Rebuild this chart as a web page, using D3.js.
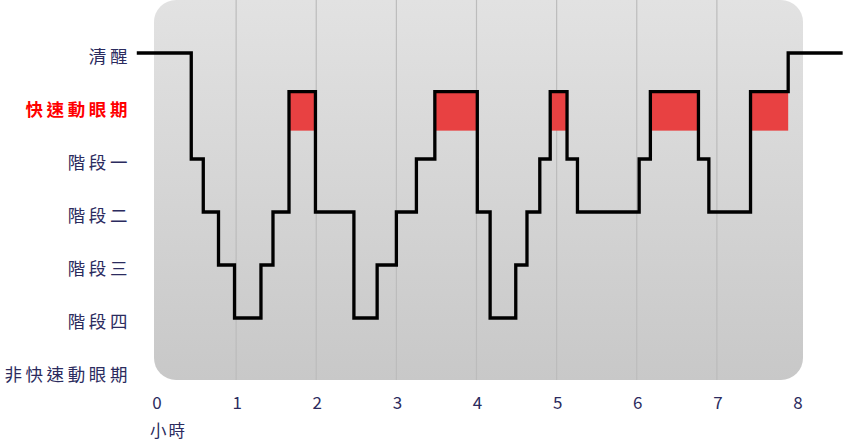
<!DOCTYPE html>
<html><head><meta charset="utf-8">
<script src="https://cdn.jsdelivr.net/npm/d3@7"></script>
<style>
html,body{margin:0;padding:0;background:#fff;}
svg{display:block;}
text{font-family:"Noto Sans CJK TC","Noto Sans",sans-serif;}
</style></head>
<body>
<svg id="chart" width="843" height="441"></svg>
<script>
// ---- data ----
const stages = ["清醒","快速動眼期","階段一","階段二","階段三","階段四","非快速動眼期"];
const xTicks = [0,1,2,3,4,5,6,7,8];
const segStart = [-0.24,0.44,0.59,0.78,0.98,1.31,1.46,1.66,1.99,2.47,2.76,3.0,3.25,3.48,4.01,4.17,4.49,4.63,4.79,4.92,5.13,5.26,6.03,6.17,6.77,6.9,7.42,7.89];
const segStage = ["清醒","階段一","階段二","階段三","階段四","階段三","階段二","快速動眼期","階段二","階段四","階段三","階段二","階段一","快速動眼期","階段二","階段四","階段三","階段二","階段一","快速動眼期","階段一","階段二","階段一","快速動眼期","階段一","階段二","快速動眼期","清醒"];
const endTime = 8.57;
const xLabel = "小時";

// ---- scales ----
const svg = d3.select("#chart");
const x = d3.scaleLinear().domain([0,8]).range([156,797]);
const y = d3.scalePoint().domain(stages).range([53,371]);
const step = y.step();
const REM = "快速動眼期";
const lvl = s => s === REM ? y(s) - step*0.27 : y(s);

// background
const defs = svg.append("defs");
const g = defs.append("linearGradient").attr("id","bg").attr("x1",0).attr("y1",0).attr("x2",0).attr("y2",1);
g.append("stop").attr("offset","0%").attr("stop-color","#e2e2e2");
g.append("stop").attr("offset","100%").attr("stop-color","#c8c8c8");
svg.append("rect")
  .attr("x", x(0)-2).attr("y", 0)
  .attr("width", x(8)+6-(x(0)-2)).attr("height", 380)
  .attr("rx", 22).attr("ry", 22)
  .attr("fill","url(#bg)");

// gridlines
svg.append("g").selectAll("line").data(xTicks.slice(1,-1)).join("line")
  .attr("x1", d=>x(d)).attr("x2", d=>x(d))
  .attr("y1", 0).attr("y2", 380)
  .attr("stroke","#bcbcbc").attr("stroke-width",1.2);

// data
const segs = segStart.map((s,i)=>({start:s, end: i<segStart.length-1 ? segStart[i+1] : endTime, stage:segStage[i]}));

// REM rects
svg.append("g").selectAll("rect").data(segs.filter(d=>d.stage===REM)).join("rect")
  .attr("x", d=>x(d.start)).attr("width", d=>x(d.end)-x(d.start))
  .attr("y", lvl(REM)).attr("height", y(REM)+step*0.465 - lvl(REM))
  .attr("fill","#e84142");

// step line
const pts = segs.map(d=>[d.start, d.stage]);
pts.push([endTime, segs[segs.length-1].stage]);
const line = d3.line().x(d=>x(d[0])).y(d=>lvl(d[1])).curve(d3.curveStepAfter);
svg.append("path").datum(pts).attr("d", line)
  .attr("fill","none").attr("stroke","#000").attr("stroke-width",3.3)
  .attr("stroke-linejoin","miter");

// y labels
svg.append("g").selectAll("text").data(stages).join("text")
  .attr("x", 131).attr("y", d=>y(d)+2)
  .attr("text-anchor","end").attr("dominant-baseline","central")
  .attr("font-size", 17.5)
  .attr("letter-spacing", 3.6)
  .attr("fill", d=> d===REM ? "#ff0000" : "#2b2b5e")
  .attr("font-weight", d=> d===REM ? "bold" : "normal")
  .text(d=>d);

// x axis labels
svg.append("g").selectAll("text").data(xTicks).join("text")
  .attr("x", d=>x(d)+1).attr("y", 409)
  .attr("text-anchor","middle")
  .attr("font-size", 17)
  .attr("fill","#2b2b5e")
  .text(d=>d);

svg.append("text").attr("x", 150).attr("y", 429.5)
  .attr("dominant-baseline","central")
  .attr("font-size", 16.5).attr("letter-spacing", 2)
  .attr("fill","#2b2b5e").text(xLabel);
</script>
</body></html>
